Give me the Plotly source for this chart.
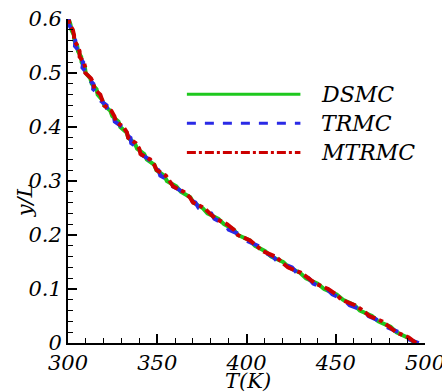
import plotly.graph_objects as go

# Normalised height y/L (rows of the profile)
y_over_L = [0.00, 0.01, 0.02, 0.03, 0.04, 0.05, 0.06, 0.07, 0.08, 0.09,
            0.10, 0.11, 0.12, 0.13, 0.14, 0.15, 0.16, 0.17, 0.18, 0.19,
            0.20, 0.21, 0.22, 0.23, 0.24, 0.25, 0.26, 0.27, 0.28, 0.29,
            0.30, 0.31, 0.32, 0.33, 0.34, 0.35, 0.36, 0.37, 0.38, 0.39,
            0.40, 0.41, 0.42, 0.43, 0.44, 0.45, 0.46, 0.47, 0.48, 0.49,
            0.50, 0.51, 0.52, 0.53, 0.54, 0.55, 0.56, 0.57, 0.58, 0.59,
            0.60]

# Temperature profiles T(K) for each method
T_dsmc = [494.5, 490.4, 484.0, 480.7, 473.8, 470.3, 463.5, 460.5, 454.1, 450.5,
          443.5, 439.9, 433.3, 430.0, 423.8, 420.5, 413.8, 410.5, 404.8, 401.9,
          395.2, 392.8, 387.4, 384.3, 378.1, 375.4, 370.3, 368.5, 363.2, 360.7,
          355.4, 353.9, 349.5, 348.4, 344.1, 342.7, 338.7, 337.4, 333.8, 332.8,
          329.3, 328.3, 324.8, 323.7, 320.3, 319.2, 316.6, 316.0, 313.3, 312.5,
          309.9, 309.5, 307.6, 307.4, 305.6, 305.2, 303.6, 303.3, 301.9, 301.4,
          300.3]

T_trmc = [496.5, 488.4, 485.5, 478.1, 475.1, 468.4, 465.7, 457.8, 454.8, 448.1,
          445.1, 437.4, 434.8, 428.2, 425.5, 417.6, 414.9, 408.6, 406.4, 399.7,
          396.9, 390.0, 388.1, 382.0, 380.2, 373.2, 371.4, 365.6, 364.4, 358.7,
          357.2, 351.7, 350.7, 346.1, 345.5, 340.6, 339.9, 335.4, 335.0, 331.1,
          330.5, 326.2, 325.7, 322.0, 321.6, 317.8, 317.5, 314.1, 314.2, 311.1,
          310.6, 308.1, 308.5, 306.2, 306.4, 303.9, 304.1, 302.3, 302.4, 300.4,
          300.3]

T_mtrmc = [495.0, 490.9, 483.8, 480.3, 476.1, 468.8, 465.4, 460.8, 453.2, 450.3,
           445.8, 438.6, 434.7, 430.6, 423.2, 420.1, 416.3, 409.2, 406.0, 402.0,
           395.1, 392.9, 389.1, 382.8, 379.4, 376.3, 370.1, 368.2, 364.9, 358.9,
           356.9, 354.8, 349.7, 348.3, 346.0, 340.6, 339.9, 338.0, 333.7, 333.0,
           331.0, 326.9, 326.0, 324.3, 320.2, 319.3, 318.1, 314.8, 314.4, 312.9,
           309.7, 309.7, 308.9, 306.5, 306.5, 305.5, 303.4, 303.4, 302.7, 300.9,
           300.5]

series_names = ["DSMC", "TRMC", "MTRMC"]
series_colors = ["#1ec81e", "#2a2ae6", "#cc0000"]
series_dash = ["solid", "dash", "dashdot"]
series_T = [T_dsmc, T_trmc, T_mtrmc]

x_ticks = [300, 350, 400, 450, 500]
y_ticks = [0, 0.1, 0.2, 0.3, 0.4, 0.5, 0.6]

FONT = "DejaVu Serif"

fig = go.Figure()
for name, T, col, dash in zip(series_names, series_T, series_colors, series_dash):
    fig.add_trace(go.Scatter(
        x=T, y=y_over_L, mode="lines", name=name, showlegend=False,
        line=dict(color=col, width=4, dash=dash),
    ))

# Hand-built key: long sample lines with italic labels
key_rows = [0.768, 0.678, 0.588]
for name, col, dash, yk in zip(series_names, series_colors, series_dash, key_rows):
    fig.add_shape(type="line", xref="paper", yref="paper",
                  x0=0.333, x1=0.651, y0=yk, y1=yk,
                  line=dict(color=col, width=3, dash=dash))
    fig.add_annotation(xref="paper", yref="paper", x=0.703, y=yk,
                       text=name, showarrow=False, xanchor="left", yanchor="middle",
                       font=dict(family=FONT, size=22, color="black", style="italic"))

axis_common = dict(
    showline=True, linecolor="black", linewidth=2,
    ticks="inside", ticklen=9, tickwidth=2, tickcolor="black",
    showgrid=False, zeroline=False, mirror=False,
    automargin=False, ticklabeloverflow="allow",
    tickfont=dict(family=FONT, size=21, color="black", style="italic"),
)

fig.update_xaxes(range=[300, 500], tickvals=x_ticks,
                 ticktext=[str(v) for v in x_ticks],
                 minor=dict(ticks="inside", ticklen=5, tickwidth=1,
                            tickcolor="black", dtick=10, showgrid=False),
                 **axis_common)
fig.update_yaxes(range=[0, 0.6], tickvals=y_ticks,
                 ticktext=["0", "0.1", "0.2", "0.3", "0.4", "0.5", "0.6"],
                 minor=dict(ticks="inside", ticklen=5, tickwidth=1,
                            tickcolor="black", dtick=0.02, showgrid=False),
                 **axis_common)

# Axis titles
fig.add_annotation(xref="paper", yref="paper", x=0.503, y=-0.116,
                   text="T(K)", showarrow=False, xanchor="center", yanchor="middle",
                   font=dict(family=FONT, size=21, color="black", style="italic"))
fig.add_annotation(xref="paper", yref="paper", x=-0.118, y=0.44,
                   text="y/L", showarrow=False, textangle=-90,
                   xanchor="center", yanchor="middle",
                   font=dict(family=FONT, size=21, color="black", style="italic"))

fig.update_layout(
    width=442, height=392,
    margin=dict(l=68, r=17, t=19, b=49),
    paper_bgcolor="white", plot_bgcolor="white",
    showlegend=False,
)

fig.write_html("out.html")
